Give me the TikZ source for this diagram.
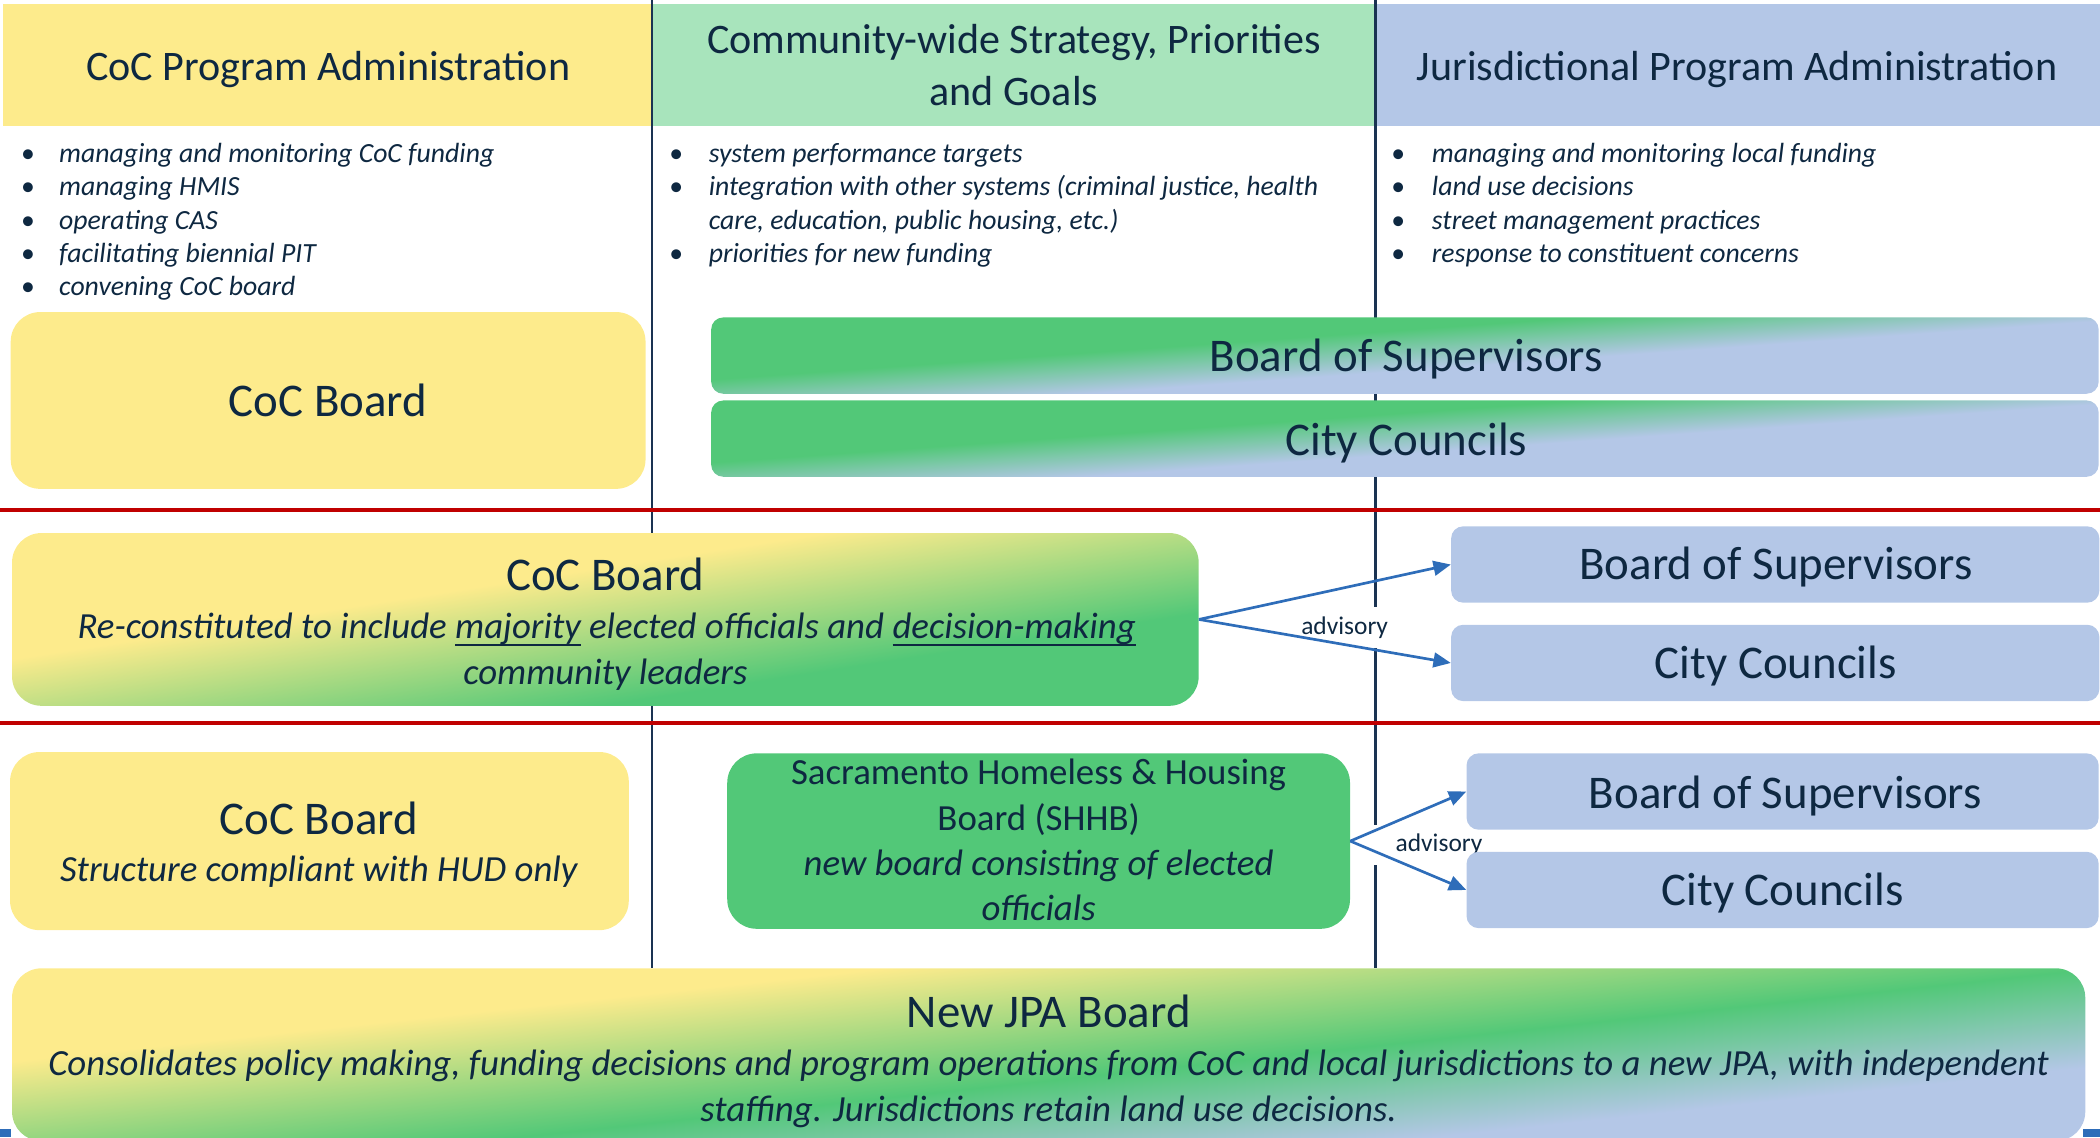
\documentclass[tikz,border=0pt]{standalone}
\usepackage{fontspec}
\setmainfont{Carlito}
\usetikzlibrary{arrows.meta}
\definecolor{hdrY}{HTML}{FDEB8C}
\definecolor{hdrG}{HTML}{A8E4BC}
\definecolor{hdrB}{HTML}{B4C7E7}
\definecolor{boxG}{HTML}{52C878}
\definecolor{txtC}{HTML}{0E2841}
\definecolor{vlineC}{HTML}{1A3352}
\definecolor{redC}{HTML}{C00000}
\definecolor{arrC}{HTML}{2E6DB9}
\pgfdeclarehorizontalshading{gbshade}{100bp}{color(0bp)=(boxG); color(42.9bp)=(boxG); color(54.1bp)=(hdrB); color(100bp)=(hdrB)}
\pgfdeclarehorizontalshading{ygshade}{100bp}{color(0bp)=(hdrY); color(42.8bp)=(hdrY); color(61.7bp)=(boxG); color(100bp)=(boxG)}
\pgfdeclarehorizontalshading{ygbshade}{100bp}{color(0bp)=(hdrY); color(37.1bp)=(hdrY); color(53.2bp)=(boxG); color(65.3bp)=(hdrB); color(100bp)=(hdrB)}
\newcommand\myul[1]{\setbox0\hbox{#1}\rlap{\rule[-5.5pt]{\wd0}{1.4pt}}\box0\relax}
% gradient fill: #1 shading, #2 angle, #3 radius, #4 x1, #5 y1, #6 x2, #7 y2, #8 half extent along gradient
\newcommand\gradbox[8]{%
  \begin{scope}
    \clip[rounded corners=#3] (#4,#5) rectangle (#6,#7);
    \begin{scope}[transform canvas={rotate around={#2:({(#4+#6)/2},{(#5+#7)/2})}}]
      \shade[shading=#1] ({(#4+#6)/2-#8},{(#5+#7)/2-900}) rectangle ({(#4+#6)/2+#8},{(#5+#7)/2+900});
    \end{scope}
  \end{scope}}
\tikzset{
  every node/.style={text=txtC},
  hdrtext/.style={font=\fontsize{31.4}{39}\selectfont, anchor=base, inner sep=0},
  bigtext/.style={font=\fontsize{35}{42}\selectfont, anchor=base, inner sep=0},
  subtext/.style={font=\fontsize{27.5}{33}\selectfont\itshape, anchor=base, inner sep=0},
  midtext/.style={font=\fontsize{27.5}{33}\selectfont, anchor=base, inner sep=0},
  bultext/.style={font=\fontsize{20.7}{25}\selectfont\itshape, anchor=base west, inner sep=0},
  bulmark/.style={font=\fontsize{20.7}{25}\selectfont, anchor=base, inner sep=0},
  advtext/.style={font=\fontsize{19}{23}\selectfont, anchor=base, inner xsep=16pt, inner ysep=7pt, fill=white},
  panel/.style={inner sep=0, draw=none},
  yelbox/.style={panel, fill=hdrY, rounded corners=22pt},
  grnbox/.style={panel, fill=boxG, rounded corners=22pt},
  blubox/.style={panel, fill=hdrB, rounded corners=9pt},
  vline/.style={draw=vlineC, line width=1.8pt},
  redline/.style={draw=redC, line width=3pt},
  advarrow/.style={draw=arrC, line width=2pt, -{Triangle[length=13pt,width=11pt]}},
}
\begin{document}
\begin{tikzpicture}[x=1pt,y=-1pt]
\useasboundingbox (0,0) rectangle (1568,849);
% header bands
\fill[hdrY] (2,3) rectangle (487,94);
\fill[hdrG] (487,3) rectangle (1027,94);
\fill[hdrB] (1027,3) rectangle (1568,94);
% column dividers
\draw[vline] (487,0) -- (487,723);
\draw[vline] (1027,0) -- (1027,723);
% row dividers
\draw[redline] (0,381) -- (1568,381);
\draw[redline] (0,540) -- (1568,540);
% headers
\node[hdrtext] (h1) at (245,60) {CoC Program Administration};
\node[hdrtext] (h2a) at (757,40) {Community-wide Strategy, Priorities};
\node[hdrtext] (h2b) at (757,79) {and Goals};
\node[hdrtext] (h3) at (1297,60) {Jurisdictional Program Administration};
% bullets column 1
\node[bulmark] (m11) at (21,121) {\textbullet};
\node[bultext] (l11) at (44,121) {managing and monitoring CoC funding};
\node[bulmark] (m12) at (21,146) {\textbullet};
\node[bultext] (l12) at (44,146) {managing HMIS};
\node[bulmark] (m13) at (21,171) {\textbullet};
\node[bultext] (l13) at (44,171) {operating CAS};
\node[bulmark] (m14) at (21,196) {\textbullet};
\node[bultext] (l14) at (44,196) {facilitating biennial PIT};
\node[bulmark] (m15) at (21,221) {\textbullet};
\node[bultext] (l15) at (44,221) {convening CoC board};
% bullets column 2
\node[bulmark] (m21) at (505,121) {\textbullet};
\node[bultext] (l21) at (529,121) {system performance targets};
\node[bulmark] (m22) at (505,146) {\textbullet};
\node[bultext] (l22) at (529,146) {integration with other systems (criminal justice, health};
\node[bultext] (l22b) at (529,171) {care, education, public housing, etc.)};
\node[bulmark] (m23) at (505,196) {\textbullet};
\node[bultext] (l23) at (529,196) {priorities for new funding};
% bullets column 3
\node[bulmark] (m31) at (1044,121) {\textbullet};
\node[bultext] (l31) at (1069,121) {managing and monitoring local funding};
\node[bulmark] (m32) at (1044,146) {\textbullet};
\node[bultext] (l32) at (1069,146) {land use decisions};
\node[bulmark] (m33) at (1044,171) {\textbullet};
\node[bultext] (l33) at (1069,171) {street management practices};
\node[bulmark] (m34) at (1044,196) {\textbullet};
\node[bultext] (l34) at (1069,196) {response to constituent concerns};
% row 1
\node[yelbox, minimum width=474pt, minimum height=132pt] (coc1) at (245,299) {};
\node[bigtext] (coc1t) at (245,311) {CoC Board};
\gradbox{gbshade}{-85.9}{9pt}{531}{237}{1567}{294}{68}
\gradbox{gbshade}{-85.9}{9pt}{531}{299}{1567}{356}{68}
\node[panel, minimum width=1036pt, minimum height=57pt] (bos1) at (1049,265.5) {};
\node[bigtext] (bos1t) at (1050,277.6) {Board of Supervisors};
\node[panel, minimum width=1036pt, minimum height=57pt] (cc1) at (1049,327.5) {};
\node[bigtext] (cc1t) at (1050,340) {City Councils};
% row 2
\gradbox{ygshade}{-81.2}{22pt}{9}{398}{895}{527}{135}
\node[panel, minimum width=886pt, minimum height=129pt] (coc2) at (452,462.5) {};
\node[bigtext] (coc2t) at (452,440.6) {CoC Board};
\node[subtext] (coc2s) at (453,476.6) {Re-constituted to include \myul{majority} elected officials and \myul{decision-making}};
\node[subtext] (coc2u) at (452,511) {community leaders};
\node[blubox, minimum width=484pt, minimum height=57pt] (bos2) at (1325.5,421.5) {};
\node[bigtext] (bos2t) at (1326,433) {Board of Supervisors};
\node[blubox, minimum width=484pt, minimum height=57pt] (cc2) at (1325.5,495) {};
\node[bigtext] (cc2t) at (1326,506.6) {City Councils};
\node[advtext] (adv1) at (1004,473.5) {advisory};
\draw[advarrow] (coc2.east) -- (bos2.west);
\draw[advarrow] (coc2.east) -- (cc2.west);
% row 3
\node[yelbox, minimum width=462pt, minimum height=133pt] (coc3) at (238.5,628) {};
\node[bigtext] (coc3t) at (238,623) {CoC Board};
\node[subtext] (coc3s) at (238,658.5) {Structure compliant with HUD only};
\node[grnbox, minimum width=465pt, minimum height=131pt] (shhb) at (775.5,628) {};
\node[midtext] (shhb1) at (775.5,586) {Sacramento Homeless \& Housing};
\node[midtext] (shhb2) at (775.5,620) {Board (SHHB)};
\node[subtext] (shhb3) at (775.5,654) {new board consisting of elected};
\node[subtext] (shhb4) at (775.5,687) {officials};
\node[advtext] (adv2) at (1074.5,636) {advisory};
\node[blubox, minimum width=472pt, minimum height=57pt] (bos3) at (1331,591) {};
\node[bigtext] (bos3t) at (1333,603.7) {Board of Supervisors};
\node[blubox, minimum width=472pt, minimum height=57pt] (cc3) at (1331,664.5) {};
\node[bigtext] (cc3t) at (1331,676) {City Councils};
\draw[advarrow] (shhb.east) -- (bos3.west);
\draw[advarrow] (shhb.east) -- (cc3.west);
% bottom
\fill[arrC] (0,843) rectangle (8,849);
\fill[arrC] (1555,843) rectangle (1568,849);
\gradbox{ygbshade}{-83.9}{22pt}{9}{723}{1557}{852}{150}
\node[panel, minimum width=1548pt, minimum height=129pt] (jpa) at (783,787.5) {};
\node[bigtext] (jpat) at (783,767) {New JPA Board};
\node[subtext] (jpa1) at (783,803) {Consolidates policy making, funding decisions and program operations from CoC and local jurisdictions to a new JPA, with independent};
\node[subtext] (jpa2) at (783,837) {staffing. Jurisdictions retain land use decisions.};
\end{tikzpicture}
\end{document}
